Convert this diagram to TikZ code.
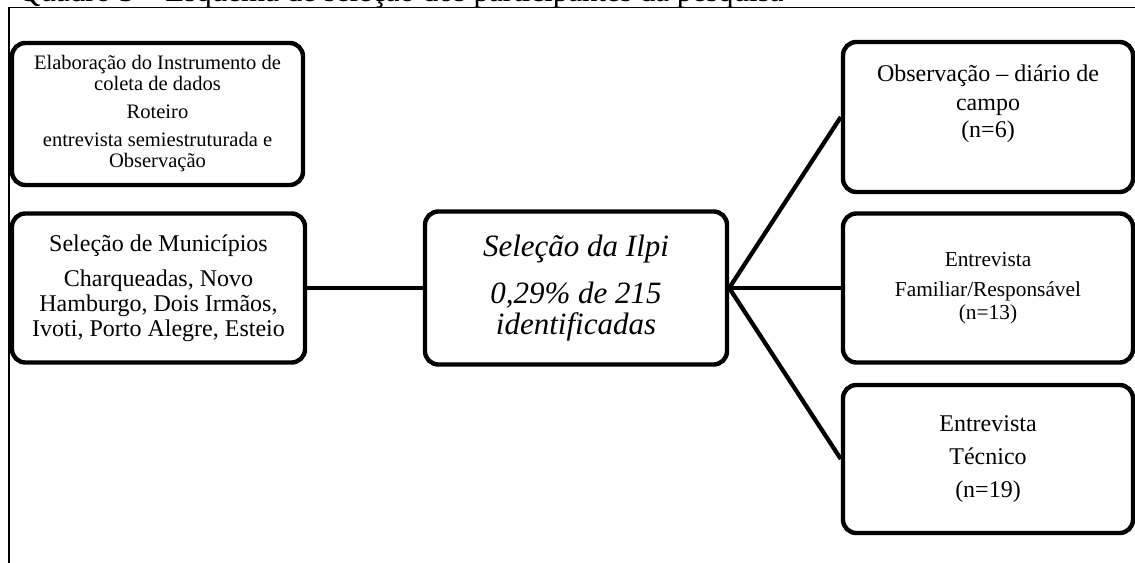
\documentclass[tikz,border=0pt]{standalone}
\usepackage{fontspec}
\setmainfont{Liberation Serif}
\begin{document}
\begin{tikzpicture}[x=0.75pt,y=-0.75pt,
  box/.style={draw, line width=3.3pt, rounded corners=10pt, align=center, inner sep=0pt, fill=white},
  link/.style={line width=3.2pt},
  frame/.style={line width=1.4pt}]
\useasboundingbox (0,0) rectangle (1135,563);
\begin{scope}
\clip (0,0) rectangle (1135,563);
% caption above the frame, partly cut by the page edge
\node[anchor=base west, inner sep=0pt, font=\fontsize{23.25pt}{28pt}\selectfont] (title) at (18,1.5)
  {Quadro 3 – Esquema de seleção dos participantes da pesquisa};
% outer frame
\draw[frame] (1140,7.5) -- (9,7.5) -- (9,570);

% left column
\node[box, minimum width=218.25pt, minimum height=106.5pt,
  font=\fontsize{15.4pt}{15.75pt}\selectfont] (instr) at (157.5,114)
  {Elaboração do Instrumento de\\coleta de dados\\[5.25pt]Roteiro\\[5.25pt]entrevista semiestruturada e\\Observação};
\node[box, minimum width=219.75pt, minimum height=111.75pt,
  font=\fontsize{18pt}{18.75pt}\selectfont] (munic) at (158.5,288)
  {Seleção de Municípios\\[7.5pt]Charqueadas, Novo\\Hamburgo, Dois Irmãos,\\Ivoti, Porto Alegre, Esteio};

% centre
\node[box, minimum width=226.5pt, minimum height=114.75pt,
  font=\fontsize{23.25pt}{23.25pt}\selectfont\itshape] (ilpi) at (576,288)
  {Seleção da Ilpi\\[12pt]0,29\% de 215\\identificadas};

% right column
\node[box, minimum width=217.5pt, minimum height=112.5pt,
  font=\fontsize{18pt}{19.5pt}\selectfont] (obs) at (988,117)
  {Observação – diário de\\[2pt]campo\\[1pt](n=6)\\[4pt]};
\node[box, minimum width=217.5pt, minimum height=111.75pt,
  font=\fontsize{16pt}{17.25pt}\selectfont] (fam) at (988,288)
  {Entrevista\\[5pt]Familiar/Responsável\\(n=13)};
\node[box, minimum width=217.5pt, minimum height=111pt,
  font=\fontsize{18pt}{19pt}\selectfont] (tec) at (988,459)
  {Entrevista\\[6pt]Técnico\\[6pt](n=19)};

% connectors
\draw[link] (munic.east) -- (ilpi.west);
\draw[link] (ilpi.east) -- (obs.west);
\draw[link] (ilpi.east) -- (fam.west);
\draw[link] (ilpi.east) -- (tec.west);
\end{scope}
\end{tikzpicture}
\end{document}
